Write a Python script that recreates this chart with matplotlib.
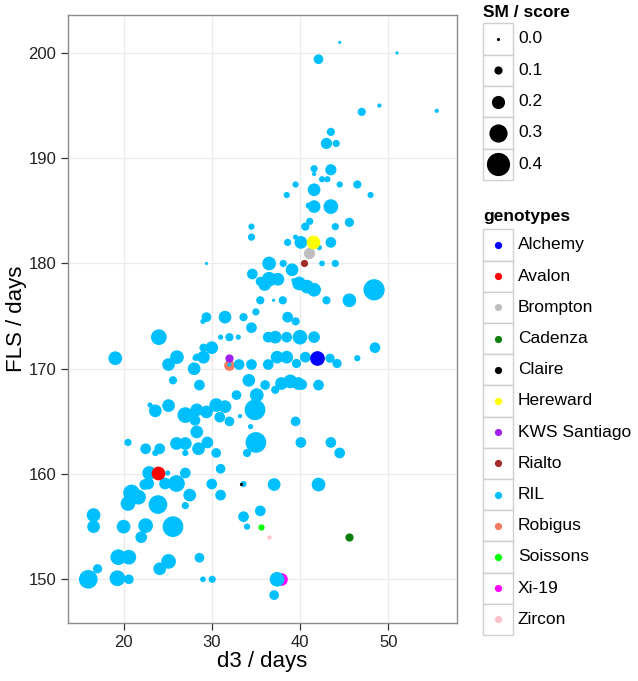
import matplotlib
matplotlib.use("Agg")
import matplotlib.pyplot as plt
from matplotlib.patches import Rectangle

plt.rcParams['font.family'] = ['Liberation Sans', 'DejaVu Sans']

# ---------------- data ----------------
ril_d3 = [44.5, 51.0, 42.1, 47.0, 49.0, 55.5, 43.5, 43.0, 44.1, 41.6,
          41.6, 43.5, 42.5, 43.1, 39.5, 44.5, 46.5, 38.5, 41.6, 48.0,
          41.6, 41.0, 43.5, 41.1, 40.6, 44.0, 45.6, 34.5, 34.5, 38.6,
          39.5, 40.1, 42.2, 43.5, 42.5, 44.0, 36.5, 38.1, 39.1, 34.6,
          35.5, 36.5, 37.5, 36.0, 39.9, 40.8, 41.6, 39.25, 48.4, 45.6,
          43.0, 35.5, 37.0, 38.05, 35.0, 33.6, 38.6, 39.5, 34.5, 33.0,
          36.4, 37.2, 38.5, 40.0, 41.6, 48.5, 36.4, 37.4, 38.5, 39.6,
          40.6, 43.4, 44.2, 46.5, 34.2, 36.05, 37.2, 37.9, 38.9, 39.8,
          40.2, 42.1, 32.8, 35.1, 34.9, 34.4, 39.5, 33.2, 33.1, 34.5,
          29.4, 31.5, 29.4, 29.0, 24.0, 31.0, 32.0, 29.06, 30.0, 28.3,
          29.06, 19.06, 26.05, 25.1, 28.0, 25.6, 28.6, 23.0, 23.6, 25.1,
          27.0, 28.1, 28.3, 29.4, 30.5, 31.5, 30.9, 28.1, 28.3, 32.0,
          20.5, 22.5, 23.6, 24.1, 26.0, 27.0, 27.0, 28.5, 29.5, 30.5,
          31.0, 22.9, 27.0, 25.0, 24.7, 26.0, 22.8, 30.0, 31.0, 27.5,
          27.0, 20.9, 21.7, 20.5, 22.4, 23.9, 16.6, 16.6, 20.0, 22.5,
          22.0, 25.6, 19.4, 20.6, 25.1, 24.1, 28.6, 17.05, 16.0, 19.3,
          20.6, 29.0, 30.05, 35.0, 34.0, 40.1, 43.5, 44.5, 33.6, 37.07,
          42.1, 33.6, 35.5, 34.0, 37.4, 37.07, 32.0]
ril_fls = [201.0, 200.0, 199.4, 194.4, 195.0, 194.5, 192.5, 191.4, 191.4, 189.0,
           188.5, 188.9, 188.0, 188.0, 187.5, 187.5, 187.5, 186.5, 187.0, 186.5,
           185.4, 185.5, 185.4, 184.0, 183.5, 183.5, 183.9, 183.5, 182.5, 182.0,
           182.5, 182.0, 181.5, 182.0, 180.0, 180.0, 180.0, 180.0, 179.4, 179.0,
           178.3, 178.5, 178.5, 178.0, 178.1, 177.8, 177.5, 178.4, 177.5, 176.5,
           176.5, 176.5, 176.5, 176.5, 175.4, 174.9, 174.9, 174.5, 173.9, 173.0,
           173.0, 173.0, 173.0, 173.0, 173.0, 172.0, 170.4, 171.1, 171.1, 170.5,
           171.1, 171.0, 170.5, 171.0, 168.9, 168.45, 168.0, 168.6, 168.8, 168.6,
           168.5, 168.45, 167.5, 167.5, 166.1, 164.5, 165.0, 165.5, 170.4, 170.4,
           180.0, 174.9, 174.9, 174.5, 173.0, 173.0, 173.0, 172.0, 172.0, 171.1,
           171.1, 171.0, 171.1, 170.4, 170.0, 168.9, 168.45, 166.55, 166.0, 166.5,
           165.6, 171.0, 166.1, 165.9, 166.55, 166.4, 165.4, 165.1, 164.0, 165.0,
           163.0, 162.4, 162.0, 162.4, 162.9, 162.9, 162.0, 162.4, 163.0, 162.0,
           160.5, 160.1, 160.1, 160.1, 159.1, 159.1, 159.1, 159.05, 158.0, 158.0,
           157.0, 158.2, 157.8, 157.2, 159.0, 157.1, 156.1, 155.0, 155.0, 155.1,
           154.0, 155.0, 152.1, 152.1, 151.7, 151.0, 152.05, 151.0, 150.0, 150.1,
           150.0, 150.0, 150.0, 163.0, 162.0, 163.0, 163.0, 162.0, 159.05, 159.0,
           159.0, 155.95, 156.5, 155.0, 150.0, 148.5, 170.4]
ril_score = [0.0, 0.0, 0.13, 0.10, 0.02, 0.02, 0.10, 0.16, 0.08, 0.08,
             0.02, 0.16, 0.06, 0.06, 0.06, 0.06, 0.10, 0.06, 0.19, 0.06,
             0.19, 0.06, 0.23, 0.08, 0.10, 0.08, 0.12, 0.06, 0.08, 0.08,
             0.04, 0.19, 0.04, 0.15, 0.05, 0.08, 0.21, 0.08, 0.19, 0.15,
             0.12, 0.23, 0.19, 0.19, 0.21, 0.21, 0.21, 0.02, 0.36, 0.21,
             0.10, 0.10, 0.0, 0.10, 0.08, 0.10, 0.15, 0.10, 0.15, 0.04,
             0.15, 0.19, 0.15, 0.23, 0.17, 0.15, 0.15, 0.19, 0.19, 0.12,
             0.15, 0.12, 0.12, 0.06, 0.19, 0.13, 0.10, 0.19, 0.21, 0.19,
             0.15, 0.15, 0.13, 0.21, 0.35, 0.04, 0.13, 0.02, 0.15, 0.15,
             0.0, 0.19, 0.13, 0.04, 0.25, 0.04, 0.10, 0.10, 0.19, 0.08,
             0.19, 0.21, 0.21, 0.19, 0.19, 0.10, 0.15, 0.04, 0.19, 0.19,
             0.25, 0.04, 0.19, 0.19, 0.21, 0.19, 0.15, 0.15, 0.19, 0.13,
             0.08, 0.15, 0.06, 0.15, 0.19, 0.19, 0.06, 0.19, 0.17, 0.13,
             0.13, 0.21, 0.15, 0.04, 0.17, 0.27, 0.17, 0.15, 0.15, 0.19,
             0.08, 0.27, 0.23, 0.23, 0.15, 0.31, 0.21, 0.19, 0.21, 0.23,
             0.17, 0.35, 0.25, 0.23, 0.23, 0.19, 0.13, 0.12, 0.31, 0.25,
             0.13, 0.05, 0.08, 0.35, 0.10, 0.15, 0.15, 0.15, 0.06, 0.19,
             0.21, 0.15, 0.15, 0.06, 0.23, 0.13, 0.02]

genotypes = ["Alchemy", "Avalon", "Brompton", "Cadenza", "Claire", "Hereward",
             "KWS Santiago", "Rialto", "RIL", "Robigus", "Soissons", "Xi-19", "Zircon"]
geno_colors = ["#0000FF", "#FF0000", "#BEBEBE", "#0A7F0A", "#000000", "#FFFF00",
               "#A020F0", "#A52A2A", "#00BFFF", "#F47A60", "#00FF00", "#FF00FF", "#FFC0CB"]
# named varieties (excluding RIL)
var_names = ["Alchemy", "Avalon", "Brompton", "Cadenza", "Claire", "Hereward",
             "KWS Santiago", "Rialto", "Robigus", "Soissons", "Xi-19", "Zircon"]
var_d3 = [41.97, 23.9, 41.0, 45.5, 33.3, 41.45, 31.9, 40.5, 32.0, 35.6, 37.9, 36.5]
var_fls = [171.0, 160.1, 181.0, 154.0, 159.05, 182.0, 171.0, 180.0, 170.4, 155.0, 150.0, 154.0]
var_score = [0.23, 0.21, 0.16, 0.10, 0.0, 0.21, 0.10, 0.08, 0.15, 0.06, 0.19, 0.02]

size_breaks = [0.0, 0.1, 0.2, 0.3, 0.4]
x_ticks = [20, 30, 40, 50]
y_ticks = [150, 160, 170, 180, 190, 200]

# ---------------- helpers ----------------
W, H, DPI = 638, 681, 100


def diam_px(s):
    return 3.2 + 50 * s


def area(scores):
    return [(diam_px(s) * 72 / DPI) ** 2 for s in scores]


col = dict(zip(genotypes, geno_colors))

fig = plt.figure(figsize=(W / DPI, H / DPI), dpi=DPI)
ax = fig.add_axes([68 / W, 1 - 623 / H, 389 / W, 608 / H])

# draw order: Xi-19 and Robigus under the RILs, others on top
under = ["Xi-19", "Robigus"]
for n, x, y, s in zip(var_names, var_d3, var_fls, var_score):
    if n in under:
        ax.scatter([x], [y], s=area([s]), color=col[n], linewidths=0, zorder=2)
ax.scatter(ril_d3, ril_fls, s=area(ril_score), color=col["RIL"], linewidths=0, zorder=3)
for n, x, y, s in zip(var_names, var_d3, var_fls, var_score):
    if n not in under:
        ax.scatter([x], [y], s=area([s]), color=col[n], linewidths=0, zorder=4)

ax.set_xlim(13.7, 57.8)
ax.set_ylim(145.85, 203.6)
ax.set_xticks(x_ticks)
ax.set_yticks(y_ticks)
ax.grid(True, color="#EBEBEB", linewidth=0.9, zorder=0)
ax.set_axisbelow(True)
for sp in ax.spines.values():
    sp.set_color("#8C8C8C")
    sp.set_linewidth(1.0)
ax.tick_params(axis="both", length=5, width=0.9, color="#333333",
               labelsize=12, labelcolor="#222222", pad=3.5)
ax.set_xlabel("d3 / days", fontsize=16, labelpad=1)
ax.set_ylabel("FLS / days", fontsize=16, labelpad=1)

# ---------------- legends (pixel coordinates overlay) ----------------
lg = fig.add_axes([0, 0, 1, 1], facecolor="none")
lg.set_xlim(0, W)
lg.set_ylim(H, 0)
lg.axis("off")

key_x0, key_w = 482.7, 30.6
lab_x = 518

# size legend
lg.text(483, 17, "SM / score", fontsize=12.5, fontweight="bold", va="baseline", ha="left")
top1, kh1 = 23.3, 31.3
for i, b in enumerate(size_breaks):
    y0 = top1 + i * kh1
    lg.add_patch(Rectangle((key_x0, y0), key_w, kh1, facecolor="white",
                           edgecolor="#D0D0D0", linewidth=1.0))
    lg.scatter([key_x0 + key_w / 2], [y0 + kh1 / 2], s=area([b]), color="black", linewidths=0)
    lg.text(lab_x, y0 + kh1 / 2, f"{b:.1f}", fontsize=12.5, va="center", ha="left")

# genotype legend
lg.text(483, 221, "genotypes", fontsize=12.5, fontweight="bold", va="baseline", ha="left")
top2, kh2 = 229.3, 31.2
for i, (g, c) in enumerate(zip(genotypes, geno_colors)):
    y0 = top2 + i * kh2
    lg.add_patch(Rectangle((key_x0, y0), key_w, kh2, facecolor="white",
                           edgecolor="#D0D0D0", linewidth=1.0))
    lg.scatter([key_x0 + key_w / 2], [y0 + kh2 / 2], s=area([0.08]), color=c, linewidths=0)
    lg.text(lab_x, y0 + kh2 / 2, g, fontsize=12.5, va="center", ha="left")

fig.savefig("out.png", dpi=DPI)
